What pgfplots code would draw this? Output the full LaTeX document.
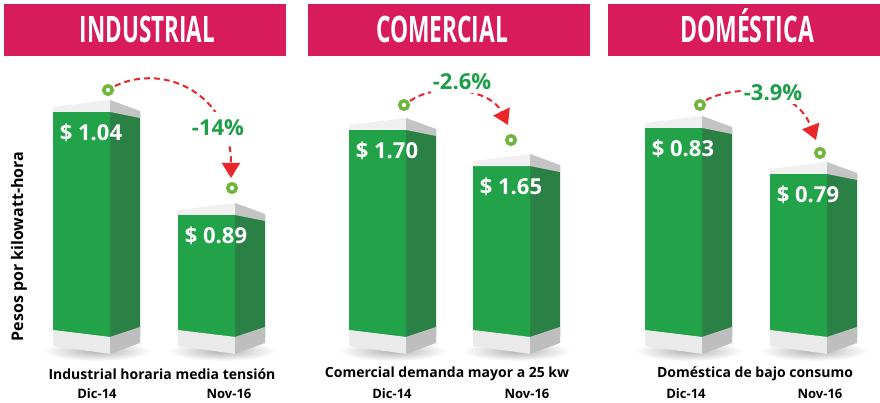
\documentclass[border=0pt]{standalone}
\usepackage{fontspec}
\setmainfont{Open Sans}
\usepackage{graphicx}
\usepackage{pgfplots}
\pgfplotsset{compat=1.18}
\usetikzlibrary{arrows.meta}
\definecolor{barfront}{RGB}{34,163,74}
\definecolor{barside}{RGB}{43,128,70}
\definecolor{banner}{RGB}{216,27,91}
\definecolor{pctgreen}{RGB}{30,158,72}
\definecolor{ringc}{RGB}{112,182,62}
\definecolor{arrowred}{RGB}{232,38,43}
\definecolor{capfront}{RGB}{240,240,240}
\definecolor{capside}{RGB}{196,196,196}
\definecolor{basefront}{RGB}{234,234,234}
\definecolor{baseside}{RGB}{190,190,190}

\newcommand\titlebox[2]{\resizebox{#1}{26bp}{\bfseries\smash{#2}\vphantom{I}}}
\newcommand\barcap[1]{%
  \fill[capfront] (#1) -- ++(0bp,5bp) -- ++(57bp,7bp) -- ++(0bp,-12bp) -- cycle;
  \fill[capside] ([xshift=57bp]#1) -- ++(0bp,12bp) -- ++(30bp,-11bp) -- ++(0bp,-7bp) -- cycle;}
\newcommand\pedestal[1]{%
  \fill[basefront] (#1,330) -- (#1+57.5,337) -- (#1+57.5,354) -- (#1,346) -- cycle;
  \fill[baseside] (#1+57,337) -- (#1+87,327) -- (#1+87,343) -- (#1+57,354) -- cycle;}
\newcommand\shadow[1]{%
  \shade[inner color=black!30, outer color=white] (#1+44,351) ellipse [x radius=54, y radius=10];}

\pgfplotsset{
  panel/.style={
    scale only axis, width=880bp, height=337bp, at={(0,66bp)}, anchor=south west,
    xmin=0, xmax=880,
    axis line style={draw=none}, tick style={draw=none}, ytick=\empty,
    /pgf/number format/assume math mode=true,
    xticklabel style={font=\fontsize{13bp}{13bp}\selectfont\bfseries, anchor=center, yshift=-57bp},
    every axis x label/.style={anchor=center, yshift=-37bp, font=\fontsize{14bp}{14bp}\selectfont\bfseries},
    every axis title/.style={text=white, anchor=center},
    clip=true,
  },
  front/.style={ybar, bar width=57, bar shift=0pt, fill=barfront, draw=none,
    nodes near coords={\$ \pgfmathprintnumber[fixed,fixed zerofill,precision=2]{\pgfplotspointmeta}},
    nodes near coords style={font=\fontsize{22bp}{22bp}\selectfont\bfseries, text=white, anchor=center, xshift=9.5bp, yshift=-21bp}},
  side/.style={ybar, bar width=31.5, bar shift=0pt, fill=barside, draw=none},
  rings/.style={only marks, mark=*, mark size=4.25bp, mark options={draw=ringc, fill=white, line width=3.5bp}},
}

\begin{document}
\begin{tikzpicture}
\useasboundingbox (0,0) rectangle (880bp,403bp);
\begin{scope}[x=1bp, y=-1bp, shift={(0,403bp)}]
  \fill[banner] (4,4) rectangle (286,56);
  \fill[banner] (308,4) rectangle (590,56);
  \fill[banner] (608,4) rectangle (880,56);
  \foreach \xl in {53,178,349,473,645,770} {\shadow{\xl}}
\end{scope}

% Industrial
\begin{axis}[panel, ymin=0.7123, ymax=1.2031,
  xtick={97,229}, xticklabels={Dic-14,Nov-16},
  xlabel={Industrial horaria media tensión},
  xlabel style={at={(axis description cs:0.1841,0)}},
  ylabel={Pesos por kilowatt-hora},
  every axis y label/.style={at={(axis description cs:0.0216,0.2685)}, rotate=90, anchor=center, font=\fontsize{16bp}{16bp}\selectfont\bfseries},
  title={\titlebox{135bp}{INDUSTRIAL}},
  title style={at={(axis description cs:0.1676,0.911)}}]
  \addplot[side] coordinates {(124.25,1.04) (249.25,0.89)};
  \addplot[front] coordinates {(81.5,1.04) (206.5,0.89)};
  \addplot[rings] coordinates {(108,1.072) (232,0.9293)};
  \coordinate (t1) at (axis cs:53,1.04);
  \coordinate (t2) at (axis cs:178,0.89);
\end{axis}

% Comercial
\begin{axis}[panel, ymin=1.4127, ymax=1.8804,
  xtick={392,527}, xticklabels={Dic-14,Nov-16},
  xlabel={Comercial demanda mayor a 25 kw},
  xlabel style={at={(axis description cs:0.508,0)}},
  title={\titlebox{132bp}{COMERCIAL}},
  title style={at={(axis description cs:0.5023,0.911)}}]
  \addplot[side] coordinates {(420.25,1.70) (544.25,1.65)};
  \addplot[front] coordinates {(377.5,1.70) (501.5,1.65)};
  \addplot[rings] coordinates {(404,1.7347) (511,1.6861)};
  \coordinate (t3) at (axis cs:349,1.70);
  \coordinate (t4) at (axis cs:473,1.65);
\end{axis}

% Domestica
\begin{axis}[panel, ymin=0.6482, ymax=0.9413,
  xtick={686,820}, xticklabels={Dic-14,Nov-16},
  xlabel={Doméstica de bajo consumo},
  xlabel style={at={(axis description cs:0.858,0)}},
  title={\titlebox{134bp}{DOMÉSTICA}},
  title style={at={(axis description cs:0.8489,0.911)}}]
  \addplot[side] coordinates {(716.25,0.83) (841.25,0.79)};
  \addplot[front] coordinates {(673.5,0.83) (798.5,0.79)};
  \addplot[rings] coordinates {(700,0.8500) (820,0.8083)};
  \coordinate (t5) at (axis cs:645,0.83);
  \coordinate (t6) at (axis cs:770,0.79);
\end{axis}

\foreach \c in {t1,t2,t3,t4,t5,t6} {\barcap{\c}}

\begin{scope}[x=1bp, y=-1bp, shift={(0,403bp)}]
  \foreach \xl in {53,178,349,473,645,770} {\pedestal{\xl}}
  \tikzset{arr/.style={arrowred, line width=2bp, dash pattern=on 6bp off 4bp, -{Triangle[length=15bp,width=18bp]}},
           pct/.style={fill=white, text=pctgreen, font=\fontsize{22bp}{22bp}\selectfont\bfseries, inner xsep=2bp, inner ysep=3bp}}
  \draw[arr] (115,86) .. controls (165,62) and (231,95) .. (231,178);
  \node[pct, inner ysep=8bp] at (218,128) {-14\%};
  \draw[arr] (410,101) .. controls (435,83) and (490,88) .. (508,125);
  \node[pct] at (462,82) {-2.6\%};
  \draw[arr] (706,100) .. controls (735,85) and (795,85) .. (816,140);
  \node[pct] at (773,93) {-3.9\%};
\end{scope}
\end{tikzpicture}
\end{document}
